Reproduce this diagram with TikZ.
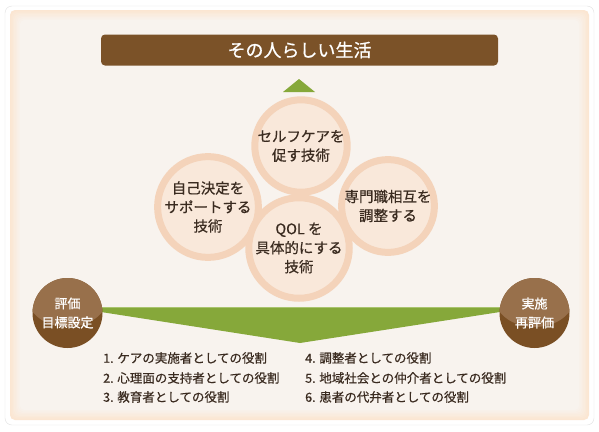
\documentclass[tikz,border=0pt]{standalone}
\usepackage{fontspec}
\setmainfont{Noto Sans CJK JP}[FakeBold=0.6]
\usepackage{tikz}
\usetikzlibrary{positioning}
\definecolor{barbrown}{HTML}{7B5228}
\definecolor{darkbrown}{HTML}{7A4F24}
\definecolor{lightbrown}{HTML}{98704B}
\definecolor{leafgreen}{HTML}{86A83A}
\definecolor{leaflight}{HTML}{A9C46E}
\definecolor{ringpeach}{HTML}{F4D3BA}
\definecolor{innerpeach}{HTML}{F9E8DA}
\definecolor{panelbg}{HTML}{F8F3EE}
\definecolor{edgepeach}{HTML}{FBE6D2}
\definecolor{inkbrown}{HTML}{3A2B20}

\begin{document}
\begin{tikzpicture}[
    x=1pt, y=-1pt,
    every node/.style={align=center, text=inkbrown},
    tech/.style={circle, draw=ringpeach, line width=7pt, fill=innerpeach, minimum size=81pt, inner sep=0pt, font=\fontsize{14.5}{19}\selectfont},
    phase/.style={circle, fill=darkbrown, minimum size=70pt, inner sep=0pt, text=white, font=\fontsize{13}{19}\selectfont,
        path picture={\fill[lightbrown] ([yshift=16pt]path picture bounding box.center) ellipse [x radius=40pt, y radius=30pt];}},
    role/.style={anchor=west, inner sep=0pt, font=\fontsize{12.5}{15}\selectfont}
    ]

% Panel
\useasboundingbox (0,0) rectangle (599,431);
\fill[white] (0,0) rectangle (599,431);
\draw[black!12, fill=white, rounded corners=7pt] (5,6) rectangle (594,425);
\foreach \i in {0,...,7} {
    \pgfmathsetmacro\m{\i*100/7}
    \fill[panelbg!\m!edgepeach, rounded corners=5pt] (10+1.4*\i,10+1.4*\i) rectangle (589-1.4*\i,420-1.4*\i);
}

% Title
\node (life) [fill=barbrown, rounded corners=4pt, minimum width=397pt, minimum height=31pt, text=white, font=\fontsize{18}{20}\selectfont] at (299.5,50) {その人らしい生活};
\fill[leafgreen] (283,92) -- (299,79) -- (315,92) -- cycle;

% Techniques
\node (selfcare) [tech] at (301,146) {セルフケアを\\促す技術};
\node (decide) [tech] at (208,207) {自己決定を\\サポートする\\技術};
\node (coord) [tech] at (388,206) {専門職相互を\\調整する};
\node (qol) [tech] at (299,248) {QOL を\\具体的にする\\技術};

% Green band
\fill[leafgreen] (67,307) -- (534,307) -- (534,312) -- (500,312) -- (300,343) -- (101,312) -- (67,312) -- cycle;
\draw[leaflight, line width=0.8pt] (67,307.4) -- (534,307.4);

% Phases
\node (assess) [phase] at (67.5,313) {評価\\目標設定};
\node (carry) [phase] at (534.5,313) {実施\\再評価};

% Roles
\node (role1) [role] at (103,358) {1. ケアの実施者としての役割};
\node (role2) [role] at (103,378) {2. 心理面の支持者としての役割};
\node (role3) [role] at (103,397) {3. 教育者としての役割};
\node (role4) [role] at (305,358) {4. 調整者としての役割};
\node (role5) [role] at (305,378) {5. 地域社会との仲介者としての役割};
\node (role6) [role] at (305,397) {6. 患者の代弁者としての役割};

\end{tikzpicture}
\end{document}
